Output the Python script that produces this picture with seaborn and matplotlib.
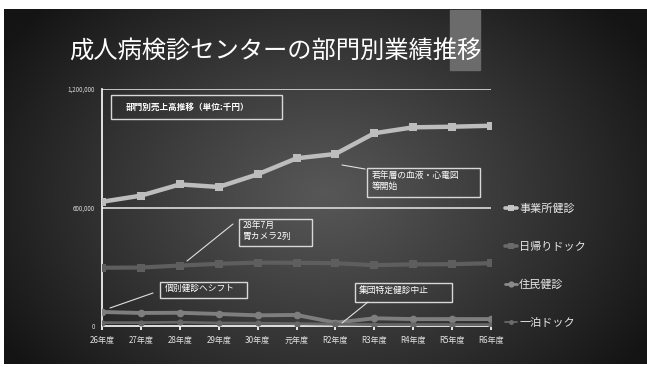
import numpy as np
import pandas as pd
import matplotlib
matplotlib.use("Agg")
import matplotlib.pyplot as plt
from matplotlib.lines import Line2D
import seaborn as sns

years = ["26年度", "27年度", "28年度", "29年度", "30年度", "元年度", "R2年度", "R3年度", "R4年度", "R5年度", "R6年度"]
jigyosho = [629000, 660000, 717000, 704000, 768000, 849000, 871000, 976000, 1006000, 1009000, 1014000]
higaeri = [295000, 296000, 306000, 315000, 321000, 320000, 318000, 308000, 312000, 313000, 318000]
jumin = [71000, 66000, 67000, 61000, 54000, 56000, 17000, 39000, 35000, 35000, 35000]
ippaku = [17000, 17000, 19000, 15000, 14000, 12000, 9000, 7000, 7000, 7000, 7000]
series_names = ["事業所健診", "日帰りドック", "住民健診", "一泊ドック"]
yticks = [0, 600000, 1200000]
ytick_labels = ["0", "600,000", "1,200,000"]
title = "成人病検診センターの部門別業績推移"

sns.set_theme(style="white")
plt.rcParams["font.family"] = ["Noto Sans CJK JP", "DejaVu Sans"]

W, H = 647, 367
fig = plt.figure(figsize=(W / 100, H / 100), dpi=100)
fig.patch.set_facecolor("white")

# background slide with radial gradient
bg = fig.add_axes([4 / W, 3 / H, 1 - 4 / W, 1 - 12 / H])
bg.set_axis_off()
yy, xx = np.mgrid[0:356, 0:643]
cx, cy = 320, 185
d = np.sqrt(((xx - cx) / 380) ** 2 + ((yy - cy) / 280) ** 2)
v = 0.34 - 0.26 * np.clip(d, 0, 1) ** 1.1
img = np.dstack([v, v, v])
bg.imshow(img, aspect="auto", extent=[0, 643, 356, 0], interpolation="bilinear")
bg.add_patch(plt.Rectangle((446, 1), 30, 60, color="#6b6b6b", zorder=2))
bg.set_xlim(0, 643)
bg.set_ylim(356, 0)
bg.text(271, 43, title, color="white", fontsize=17.5, ha="center", va="center", zorder=3)

ax = fig.add_axes([102 / W, 1 - 326 / H, (491 - 102) / W, (326 - 89) / H])
ax.patch.set_alpha(0)

df = pd.DataFrame({
    "idx": list(range(len(years))) * 4,
    "value": jigyosho + higaeri + jumin + ippaku,
    "series": [s for s in series_names for _ in years],
})

styles = {
    "事業所健診": dict(color="#bdbdbd", marker="s", lw=3.2, ms=5.5),
    "日帰りドック": dict(color="#5e5e5e", marker="s", lw=3.0, ms=5.5),
    "住民健診": dict(color="#7e7e7e", marker="o", lw=2.8, ms=5.5),
    "一泊ドック": dict(color="#676767", marker="o", lw=2.0, ms=4.5),
}
for s in series_names:
    st = styles[s]
    sns.lineplot(data=df[df["series"] == s], x="idx", y="value", ax=ax, color=st["color"],
                 marker=st["marker"], linewidth=st["lw"], markersize=st["ms"],
                 markeredgewidth=0, legend=False, zorder=3)

ax.set_xlim(0, len(years) - 1)
ax.set_ylim(0, 1200000)
ax.set_xticks(range(len(years)))
ax.set_xticklabels(years, color="#e0e0e0", fontsize=5.8)
ax.set_yticks(yticks)
ax.set_yticklabels(ytick_labels, color="#dddddd", fontsize=4.5)
ax.set_xlabel("")
ax.set_ylabel("")
for sp in ["top", "right"]:
    ax.spines[sp].set_visible(False)
ax.spines["left"].set_color("white")
ax.spines["bottom"].set_color("white")
ax.spines["left"].set_linewidth(1.2)
ax.spines["bottom"].set_linewidth(1.2)
ax.tick_params(axis="x", direction="out", length=3, color="white", pad=4, bottom=True)
ax.tick_params(axis="y", length=0, pad=5, left=False)
for yv in [600000, 1200000]:
    ax.axhline(yv, color="#d0d0d0", lw=1.3, zorder=2)

ann = [
    ("部門別売上高推移（単位:千円）", (111, 95, 282, 119), (126, 103), None, True),
    ("若年層の血液・心電図\n等開始", (367, 168, 480, 197), (372, 171), ((342, 165), (365, 169)), False),
    ("28年7月\n胃カメラ2列", (239, 219, 312, 246), (243, 221), ((187, 261), (233, 224)), False),
    ("個別健診へシフト", (160, 282, 247, 298), (165, 284), ((110, 308), (153, 293)), False),
    ("集団特定健診中止", (355, 283, 452, 302), (359, 286), ((342, 323), (368, 302)), False),
]
for text, (x0, y0, x1, y1), (tx, ty), line, bold in ann:
    fx0, fy0 = x0 / W, 1 - y1 / H
    fig.patches.append(plt.Rectangle((fx0, fy0), (x1 - x0) / W, (y1 - y0) / H, fill=False,
                                     edgecolor="#d8d8d8", lw=1.0, transform=fig.transFigure, figure=fig))
    fig.text(tx / W, 1 - ty / H, text, color="white", fontsize=6.3 if not bold else 6.2,
             fontweight="bold" if bold else "normal", ha="left", va="top", linespacing=1.25)
    if line:
        (lx0, ly0), (lx1, ly1) = line
        fig.lines.append(Line2D([lx0 / W, lx1 / W], [1 - ly0 / H, 1 - ly1 / H], color="#e0e0e0",
                                lw=0.8, transform=fig.transFigure, figure=fig))

leg_colors = ["#c4c4c4", "#6a6a6a", "#8a8a8a", "#6c6c6c"]
leg_lw = [2.6, 2.6, 2.0, 1.2]
leg_ms = [5, 5, 4.5, 3.5]
handles = [Line2D([], [], color=c, marker=styles[s]["marker"], lw=lw, ms=ms, markeredgewidth=0)
           for s, c, lw, ms in zip(series_names, leg_colors, leg_lw, leg_ms)]
leg = ax.legend(handles, series_names, loc="upper left", bbox_to_anchor=(1.025, 0.535),
                frameon=False, fontsize=8, labelcolor="#e8e8e8", handlelength=1.1,
                handletextpad=0.15, labelspacing=2.5, borderaxespad=0)

fig.savefig("out.png", dpi=100, facecolor=fig.get_facecolor())
